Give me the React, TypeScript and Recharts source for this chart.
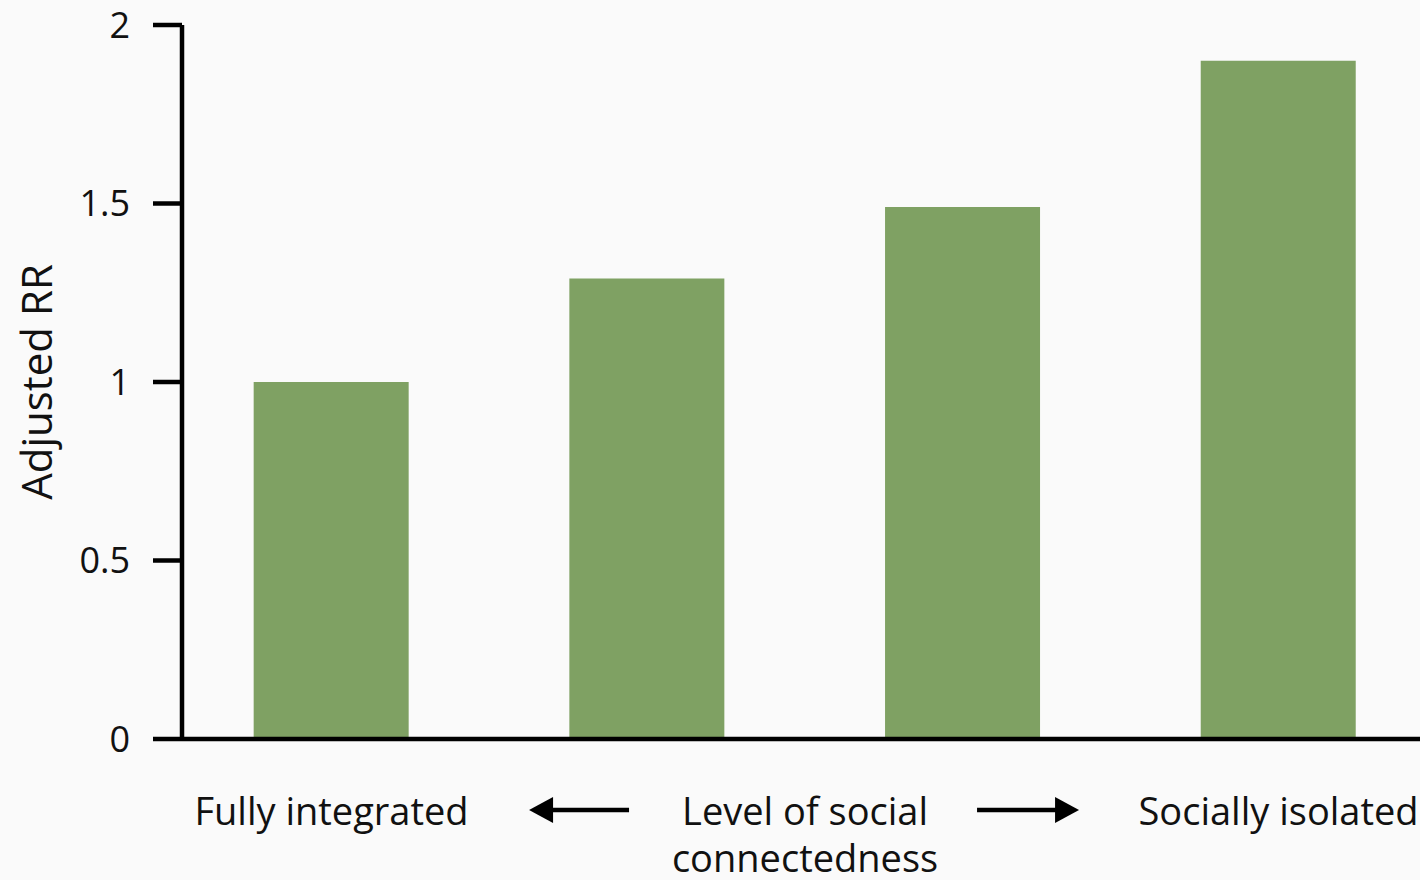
import { BarChart, Bar, XAxis, YAxis, Label } from 'recharts';

// Adjusted relative risk by level of social connectedness
const groupIndex = [0, 1, 2, 3];
const adjustedRR = [1.0, 1.29, 1.49, 1.9];

const yTicks = [0, 0.5, 1, 1.5, 2];
const xTickPositions = [0, 1.5, 3];
const xTickLabels = ['Fully integrated', 'Level of social\nconnectedness', 'Socially isolated'];

const FONT = '"Open Sans", sans-serif';
const BAR_COLOR = '#7fa163';

const data = groupIndex.map((g, i) => ({ g, rr: adjustedRR[i] }));

function ArrowLeft({ x1, x2, y }: { x1: number; x2: number; y: number }) {
  // x1 = tip, x2 = tail
  return (
    <g>
      <line x1={x1 + 20} y1={y} x2={x2} y2={y} stroke="#000" strokeWidth={4.5} />
      <polygon points={`${x1},${y} ${x1 + 24},${y - 13} ${x1 + 24},${y + 13}`} fill="#000" />
    </g>
  );
}

function ArrowRight({ x1, x2, y }: { x1: number; x2: number; y: number }) {
  // x1 = tail, x2 = tip
  return (
    <g>
      <line x1={x1} y1={y} x2={x2 - 20} y2={y} stroke="#000" strokeWidth={4.5} />
      <polygon points={`${x2},${y} ${x2 - 24},${y - 13} ${x2 - 24},${y + 13}`} fill="#000" />
    </g>
  );
}

function XTick(props: any) {
  const { x, y, payload } = props;
  const idx = xTickPositions.indexOf(payload.value);
  const lines = (xTickLabels[idx] || '').split('\n');
  const isMiddle = idx === 1;
  // tick y already includes default tickSize + margin (8px)
  const base = y - 8;
  return (
    <g>
      {lines.map((ln, i) => (
        <text
          key={i}
          x={x}
          y={base + 86 + i * 47}
          textAnchor="middle"
          fontFamily={FONT}
          fontSize={38}
          fill="#111"
        >
          {ln}
        </text>
      ))}
      {isMiddle && <ArrowLeft x1={x - 276} x2={x - 176} y={base + 71} />}
      {isMiddle && <ArrowRight x1={x + 172} x2={x + 274} y={base + 71} />}
    </g>
  );
}

function YLabel(props: any) {
  const { viewBox } = props;
  const cx = 35;
  const cy = viewBox.y + viewBox.height / 2;
  return (
    <text
      x={cx}
      y={cy}
      transform={`rotate(-90, ${cx}, ${cy})`}
      textAnchor="middle"
      dominantBaseline="central"
      fontFamily={FONT}
      fontSize={42}
      fill="#111"
    >
      Adjusted RR
    </text>
  );
}

export default function App() {
  return (
    <div style={{ width: 1420, height: 880, background: '#fafafa', overflow: 'hidden' }}>
      <style>{'body{margin:0;background:#fafafa}'}</style>
      <BarChart
        width={1420}
        height={880}
        data={data}
        margin={{ top: 25, right: 0, bottom: 0, left: 0 }}
      >
        <XAxis
          dataKey="g"
          type="number"
          domain={[-0.4736, 3.448]}
          allowDataOverflow
          ticks={xTickPositions}
          tick={<XTick />}
          tickLine={false}
          axisLine={{ stroke: '#000', strokeWidth: 4.5 }}
          height={141}
          interval={0}
        />
        <YAxis
          domain={[0, 2]}
          ticks={yTicks}
          width={182}
          tickSize={29}
          tickMargin={23}
          tickLine={{ stroke: '#000', strokeWidth: 4.5 }}
          axisLine={{ stroke: '#000', strokeWidth: 4.5 }}
          tick={{ fill: '#111', fontSize: 36, fontFamily: FONT }}
        >
          <Label content={<YLabel />} />
        </YAxis>
        <Bar dataKey="rr" fill={BAR_COLOR} barSize={155} isAnimationActive={false} />
      </BarChart>
    </div>
  );
}
